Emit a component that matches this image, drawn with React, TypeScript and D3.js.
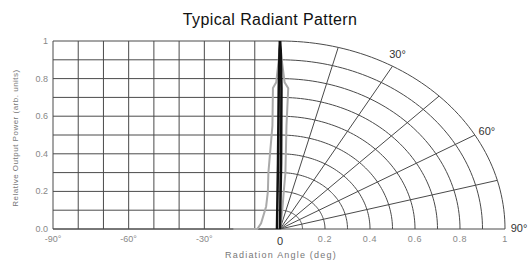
import React from "react";
import * as d3 from "d3";

// readings
const yTicks = [0, 0.2, 0.4, 0.6, 0.8, 1];
const yTickLabels = ["0.0", "0.2", "0.4", "0.6", "0.8", "1"];
const xTicks = [-90, -60, -30];
const xTickLabels = ["-90°", "-60°", "-30°"];
const rTicks = [0.2, 0.4, 0.6, 0.8, 1];
const rTickLabels = ["0.2", "0.4", "0.6", "0.8", "1"];
const polarAngles = [15, 30, 45, 60, 75];
const polarLabels = [{ a: 30, t: "30°" }, { a: 60, t: "60°" }, { a: 90, t: "90°" }];

// narrow beam (black) and wider envelope (gray)
const beamAngle = [-1.2, -0.8, -0.5, -0.2, 0];
const beamPower = [0, 0.35, 0.75, 0.95, 1];
const wideAngle = [-18.5, -9, -7.5, -5.5, -4.8, -4.6, -3, -2.8, -1.5, -0.5, 0];
const widePower = [0, 0, 0.03, 0.12, 0.2, 0.3, 0.55, 0.75, 0.78, 0.9, 1];

const W = 528, H = 263;
const cx = 280, cy = 229;

export default function App() {
  const x = d3.scaleLinear([-90, 0], [53, cx]);
  const y = d3.scaleLinear([0, 1], [cy, 41]);
  const rx = d3.scaleLinear([0, 1], [0, 225]);
  const ry = d3.scaleLinear([0, 1], [0, cy - 41]);
  const pol = (deg: number, r: number): [number, number] => {
    const t = (deg * Math.PI) / 180;
    return [cx + rx(r) * Math.sin(t), cy - ry(r) * Math.cos(t)];
  };
  const cart = d3.line<[number, number]>().x(d => x(d[0])).y(d => y(d[1]));
  const polLine = d3.line<[number, number]>().x(d => pol(Math.abs(d[0]), d[1])[0]).y(d => pol(Math.abs(d[0]), d[1])[1]);
  const beam = beamAngle.map((a, i) => [a, beamPower[i]] as [number, number]);
  const wide = wideAngle.map((a, i) => [a, widePower[i]] as [number, number]);

  const vGrid = d3.range(-90, 1, 10);
  const hGrid = d3.range(0, 1.01, 0.1);
  const arcs = d3.range(1, 11).map(i => i / 10);
  const arcPath = (r: number) =>
    d3.line<number>().x(a => pol(a, r)[0]).y(a => pol(a, r)[1])(d3.range(0, 90.5, 1.5));
  const grid = "#4a4a4a";
  const font = "Liberation Sans, Arial, sans-serif";

  return (
    <svg width={W} height={H} style={{ position: "absolute", left: 0, top: 0, background: "#fff" }} fontFamily={font}>
      <text x={270} y={25} textAnchor="middle" fontSize={16} fill="#111" letterSpacing={0.4}>Typical Radiant Pattern</text>

      {/* cartesian grid */}
      {vGrid.map(v => (
        <line key={"v" + v} x1={x(v)} x2={x(v)} y1={y(0)} y2={y(1)} stroke={grid} strokeWidth={1} />
      ))}
      {hGrid.map(v => (
        <line key={"h" + v} x1={x(-90)} x2={x(0)} y1={y(v)} y2={y(v)} stroke={grid} strokeWidth={1} />
      ))}

      {/* polar grid */}
      {arcs.map(r => (
        <path key={"a" + r} d={arcPath(r) || ""} fill="none" stroke={grid} strokeWidth={1} />
      ))}
      {polarAngles.map(a => {
        const [px, py] = pol(a, 1);
        return <line key={"r" + a} x1={cx} y1={cy} x2={px} y2={py} stroke={grid} strokeWidth={1} />;
      })}
      <line x1={x(-90)} x2={cx + rx(1)} y1={cy} y2={cy} stroke={grid} strokeWidth={1} />

      {/* data */}
      <path d={cart(wide) || ""} fill="none" stroke="#aaa" strokeWidth={2} />
      <path d={polLine(wide) || ""} fill="none" stroke="#aaa" strokeWidth={2} />
      <path d={cart(beam) || ""} fill="none" stroke="#111" strokeWidth={2.5} />
      <path d={polLine(beam) || ""} fill="none" stroke="#111" strokeWidth={2.5} />

      {/* labels */}
      {yTicks.map((v, i) => (
        <text key={"yt" + v} x={48} y={y(v) + 3} textAnchor="end" fontSize={9} fill="#888">{yTickLabels[i]}</text>
      ))}
      {xTicks.map((v, i) => (
        <text key={"xt" + v} x={x(v)} y={242} textAnchor="middle" fontSize={9} fill="#888">{xTickLabels[i]}</text>
      ))}
      <text x={cx} y={245} textAnchor="middle" fontSize={11} fill="#333">0</text>
      {rTicks.map((v, i) => (
        <text key={"rt" + v} x={cx + rx(v)} y={242} textAnchor="middle" fontSize={9} fill="#888" letterSpacing={0.6}>{rTickLabels[i]}</text>
      ))}
      {polarLabels.map(p => {
        const [px, py] = pol(p.a, 1);
        const dx = p.a === 90 ? 14 : p.a === 60 ? 12 : 5;
        const dy = p.a === 90 ? 3 : p.a === 60 ? 0 : -8;
        return <text key={"pl" + p.a} x={px + dx} y={py + dy} textAnchor="middle" fontSize={11} fill="#333">{p.t}</text>;
      })}
      <text x={281} y={258} textAnchor="middle" fontSize={9} fill="#777" letterSpacing={1.2}>Radiation Angle (deg)</text>
      <text transform="translate(18,138) rotate(-90)" textAnchor="middle" fontSize={8} fill="#777" letterSpacing={0.5}>Relative Output Power (arb. units)</text>
    </svg>
  );
}
